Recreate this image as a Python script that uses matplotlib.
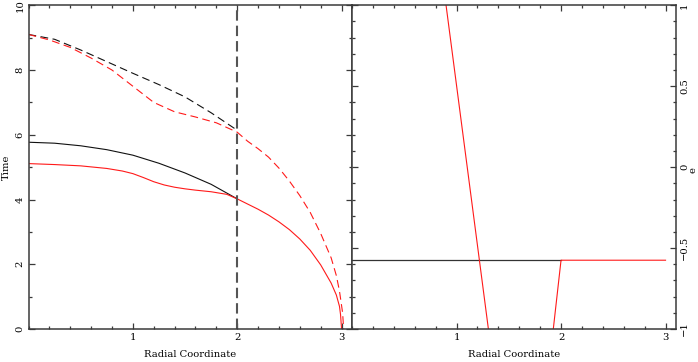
import numpy as np
import matplotlib
matplotlib.use("Agg")
import matplotlib.pyplot as plt
from matplotlib.ticker import MultipleLocator

# ---- data ----
black_solid_r = [0, 0.25, 0.5, 0.75, 1.0, 1.25, 1.5, 1.75, 2.0]
black_solid_t = [5.77, 5.74, 5.66, 5.54, 5.37, 5.12, 4.82, 4.47, 4.02]

black_dash_r = [0, 0.25, 0.5, 0.75, 1.0, 1.25, 1.5, 1.75, 2.0]
black_dash_t = [9.10, 8.95, 8.62, 8.26, 7.90, 7.55, 7.17, 6.68, 6.14]

red_solid_r = [0, 0.25, 0.5, 0.75, 0.9, 1.0, 1.1, 1.2, 1.3, 1.4, 1.5, 1.6, 1.75, 1.9, 2.0,
               2.1, 2.2, 2.3, 2.4, 2.5, 2.6, 2.7, 2.8, 2.9, 2.95, 2.98, 2.99, 3.0]
red_solid_t = [5.11, 5.08, 5.04, 4.96, 4.88, 4.80, 4.68, 4.55, 4.45, 4.38, 4.33, 4.29, 4.24, 4.16, 4.02,
               3.86, 3.70, 3.52, 3.31, 3.07, 2.78, 2.43, 1.98, 1.42, 1.05, 0.70, 0.45, 0.0]

red_dash_r = [0, 0.2, 0.4, 0.6, 0.8, 1.0, 1.2, 1.4, 1.6, 1.8, 2.0, 2.1, 2.2, 2.3, 2.4, 2.5,
              2.6, 2.7, 2.8, 2.9, 2.95, 2.98, 3.01, 3.02]
red_dash_t = [9.10, 8.93, 8.70, 8.37, 8.00, 7.50, 7.00, 6.71, 6.55, 6.37, 6.08, 5.80, 5.57, 5.31, 4.97, 4.57,
              4.12, 3.60, 2.95, 2.20, 1.65, 1.17, 0.50, 0.0]

boundary_r = 2.0

black_e_r = [0, 2.0]
black_e = [-0.575, -0.575]

red_e_r = [0.9, 1.305, np.nan, 1.926, 2.0, 3.0]
red_e = [1.0, -1.0, np.nan, -1.0, -0.575, -0.575]

xlabel = "Radial Coordinate"

# ---- figure ----
plt.rcParams['font.family'] = ['DejaVu Serif']
fig = plt.figure(figsize=(6.98, 3.62), dpi=100)
W, H = 698, 362
left_px, mid_px, right_px = 28.5, 352.0, 676.0
top_px, bot_px = 5.3, 329.0
axL = fig.add_axes([left_px / W, 1 - bot_px / H, (mid_px - left_px) / W, (bot_px - top_px) / H])
axR = fig.add_axes([mid_px / W, 1 - bot_px / H, (right_px - mid_px) / W, (bot_px - top_px) / H])

spine_col = '#3a3a3a'
red = '#ff1a1a'
fs = 7.2

for ax in (axL, axR):
    for s in ax.spines.values():
        s.set_color(spine_col)
        s.set_linewidth(1.1)
    ax.set_xlim(0, 3.1)
    ax.xaxis.set_major_locator(MultipleLocator(1))
    ax.xaxis.set_minor_locator(MultipleLocator(0.2))
    ax.tick_params(which='both', direction='in', top=True, bottom=True, left=True, right=True,
                   colors=spine_col, labelcolor='black', labelsize=fs, width=0.9)
    ax.tick_params(which='major', length=4.5, pad=3)
    ax.tick_params(which='minor', length=2.3)
    ax.set_xticks([1, 2, 3])
    ax.set_xticklabels(['1', '2', '3'])
    ax.set_xlabel(xlabel, fontsize=fs)
    ax.xaxis.set_label_coords(0.5, -0.066)

# left panel
axL.set_ylim(0, 10)
axL.yaxis.set_major_locator(MultipleLocator(2))
axL.yaxis.set_minor_locator(MultipleLocator(1))
axL.set_yticks([0, 2, 4, 6, 8, 10])
axL.set_yticklabels(['0', '2', '4', '6', '8', '10'], rotation=90, va='center')
axL.set_ylabel('Time', fontsize=fs)
axL.yaxis.set_label_coords((10.5 - left_px) / (mid_px - left_px), 0.5)

axL.plot(black_solid_r, black_solid_t, color='#111111', lw=0.8)
axL.plot(black_dash_r, black_dash_t, color='#111111', lw=0.8, dashes=(7, 4))
axL.plot(red_solid_r, red_solid_t, color=red, lw=0.8)
axL.plot(red_dash_r, red_dash_t, color=red, lw=0.8, dashes=(7, 4))
axL.axvline(boundary_r, color='#555555', lw=1.5, dashes=(5, 2.4))

# right panel
axR.set_ylim(-1, 1)
axR.yaxis.set_major_locator(MultipleLocator(0.5))
axR.yaxis.set_minor_locator(MultipleLocator(0.1))
axR.yaxis.tick_right()
axR.tick_params(which='both', left=True, right=True, labelleft=False, labelright=True)
axR.set_yticks([-1, -0.5, 0, 0.5, 1])
axR.set_yticklabels(['\u22121', '\u22120.5', '0', '0.5', '1'], rotation=90, va='center')
axR.yaxis.set_label_position('right')
axR.set_ylabel('e', fontsize=fs, rotation=90)
axR.yaxis.set_label_coords((689 - mid_px) / (right_px - mid_px), 0.49)

axR.plot(black_e_r, black_e, color='#333333', lw=0.9)
axR.plot(red_e_r, red_e, color=red, lw=0.8)

fig.savefig('out.png', dpi=100)
